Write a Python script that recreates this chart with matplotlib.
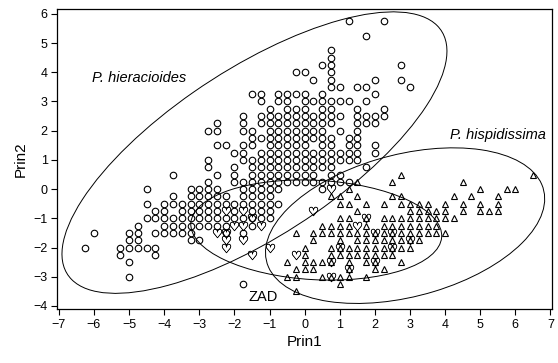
import numpy as np
import matplotlib
matplotlib.use('Agg')
import matplotlib.pyplot as plt
from matplotlib.patches import Ellipse

plt.rcParams['font.family'] = ['Liberation Sans', 'DejaVu Sans']

# P. hieracioides (circles): (Prin1, [Prin2 values])
hier_cols = [
    (-6.25, [-2]),
    (-6.0, [-1.5]),
    (-5.25, [-2, -2.25]),
    (-5.0, [-1.5, -1.75, -2, -2.5, -3]),
    (-4.75, [-1.25, -1.5, -1.75, -2]),
    (-4.5, [0, -0.5, -1, -2]),
    (-4.25, [-0.75, -1, -1.5, -2, -2.25]),
    (-4.0, [-0.5, -0.75, -1, -1.25, -1.5]),
    (-3.75, [0.5, -0.25, -0.5, -1, -1.25, -1.5]),
    (-3.5, [-0.5, -0.75, -1, -1.25, -1.5]),
    (-3.25, [0, -0.25, -0.5, -0.75, -1, -1.25, -1.5, -1.75]),
    (-3.0, [0, -0.25, -0.5, -0.75, -1, -1.25, -1.75]),
    (-2.75, [2, 1, 0.75, 0.25, 0, -0.25, -0.5, -0.75, -1, -1.25]),
    (-2.5, [2.25, 2, 1.5, 0.5, 0, -0.25, -0.5, -0.75, -1, -1.25]),
    (-2.25, [1.5, -0.25, -0.5, -1, -1.25, -1.5]),
    (-2.0, [1.25, 0.75, 0.5, 0.25, -0.5, -0.75, -1]),
    (-1.75, [2.5, 2.25, 2, 1.5, 1.25, 1, 0.25, 0, -0.25, -0.5, -1, -1.5, -3.25]),
    (-1.5, [3.25, 2, 1.75, 1.5, 1, 0.75, 0.5, 0.25, 0, -0.25, -0.5, -0.75, -1, -1.25]),
    (-1.25, [3.25, 3, 2.5, 2.25, 1.75, 1.25, 1, 0.75, 0.5, 0.25, 0, -0.25, -0.5, -0.75, -1]),
    (-1.0, [2.75, 2.5, 2.25, 2, 1.75, 1.5, 1.25, 1, 0.75, 0.5, 0.25, 0, -0.25, -0.5, -0.75, -1]),
    (-0.75, [3.25, 3, 2.5, 2.25, 2, 1.75, 1.5, 1.25, 1, 0.75, 0.5, 0.25, 0, -0.5]),
    (-0.5, [3.25, 3, 2.75, 2.5, 2.25, 2, 1.75, 1.5, 1.25, 1, 0.75, 0.5, 0.25]),
    (-0.25, [4, 3.25, 2.75, 2.5, 2.25, 2, 1.75, 1.5, 1.25, 1, 0.75, 0.5, 0.25]),
    (0.0, [4, 3.25, 3, 2.75, 2.5, 2.25, 2, 1.75, 1.5, 1.25, 1, 0.75, 0.5, 0.25]),
    (0.25, [3.75, 3, 2.5, 2.25, 2, 1.75, 1.25, 1, 0.75, 0.5, 0.25]),
    (0.5, [4.25, 3.25, 3, 2.75, 2.5, 2.25, 2, 1.75, 1.5, 1.25, 1, 0.75, 0.25, 0]),
    (0.75, [4.75, 4.5, 4.25, 4, 3.75, 3.5, 3, 2.75, 2.5, 2.25, 1.75, 1.5, 1.25, 1, 0.75, 0.5, 0.25]),
    (1.0, [3.5, 3, 2.5, 2, 1.25, 1, 0.5, 0.25]),
    (1.25, [5.75, 3, 1.75, 1.5, 1.25, 1, 0.25]),
    (1.5, [3.5, 2.75, 2.5, 2.25, 2, 1.75, 1.5, 1.25, 1]),
    (1.75, [5.25, 3.5, 3, 2.5, 2.25, 0.75]),
    (2.0, [3.75, 3.25, 2.5, 2.25, 1.5, 1.25]),
    (2.25, [5.75, 2.75, 2.5]),
    (2.75, [4.25, 3.75]),
    (3.0, [3.5]),
]

# P. hispidissima (triangles): (Prin2, [Prin1 values])
hisp_rows = [
    (0.5, [2.75, 6.5]),
    (0.25, [1.5, 2.5, 4.5]),
    (0.0, [1.25, 5.0, 5.75, 6.0]),
    (-0.25, [0.75, 1.0, 1.5, 2.5, 2.75, 4.25, 4.75, 5.5]),
    (-0.5, [1.0, 1.25, 1.75, 2.25, 2.75, 3.0, 3.25, 3.5, 4.0, 4.5, 5.0, 5.5]),
    (-0.75, [1.5, 3.0, 3.25, 3.5, 3.75, 4.0, 4.5, 5.0, 5.25, 5.5]),
    (-1.0, [1.0, 1.25, 1.75, 2.25, 2.5, 2.75, 3.0, 3.25, 3.5, 3.75, 4.0, 4.25]),
    (-1.25, [0.5, 0.75, 1.0, 1.25, 1.75, 2.25, 2.5, 2.75, 3.0, 3.25, 3.5, 3.75]),
    (-1.5, [-0.25, 0.25, 0.5, 0.75, 1.0, 1.25, 1.5, 1.75, 2.0, 2.25, 2.5, 2.75, 3.0, 3.25, 3.5, 3.75, 4.0]),
    (-1.75, [0.25, 1.0, 1.5, 1.75, 2.0, 2.25, 2.5, 2.75, 3.0, 3.25]),
    (-2.0, [0.0, 0.75, 1.0, 1.25, 1.5, 1.75, 2.0, 2.25, 2.5, 2.75, 3.0]),
    (-2.25, [0.0, 0.75, 1.0, 1.25, 1.5, 1.75, 2.0, 2.25, 2.5]),
    (-2.5, [-0.5, 0.0, 0.25, 0.5, 0.75, 1.25, 1.75, 2.0, 2.75]),
    (-2.75, [-0.25, 0.0, 0.25, 1.25, 2.0, 2.25]),
    (-3.0, [-0.5, -0.25, 0.5, 0.75, 1.0, 1.25, 1.75]),
    (-3.25, [1.0]),
    (-3.5, [-0.25]),
]

# ZAD (hearts)
zad_x = [-2.5, -2.25, -2.25, -2.25, -2.25, -2.0, -1.75, -1.75, -1.75, -1.5, -1.5, -1.25, -1.0,
         -0.25, 0.25, 0.75, 1.0, 1.5, 1.75, 2.0, 2.5, 3.0, 2.5, 0.75, 2.0, 1.25, 0.75]
zad_y = [-1.5, -0.75, -1.5, -1.75, -2.0, -1.25, -0.75, -1.25, -1.75, -1.0, -2.25, -1.25, -2.0,
         -2.25, -0.75, 0.0, -2.0, -1.25, -1.0, -1.5, -1.5, -1.75, -2.0, -2.5, -2.5, -2.75, -3.0]

# ellipses: center x, center y, semi-major, semi-minor, angle (deg)
ell_hier = (-1.43, 1.25, 6.78, 2.70, 39.9)
ell_hisp = (2.86, -1.25, 4.14, 2.40, 20.0)
ell_zad = (0.33, -1.4, 3.58, 1.70, -4.0)

hier_x = np.concatenate([[x] * len(ys) for x, ys in hier_cols])
hier_y = np.concatenate([ys for x, ys in hier_cols])
hisp_y = np.concatenate([[y] * len(xs) for y, xs in hisp_rows])
hisp_x = np.concatenate([xs for y, xs in hisp_rows])

fig = plt.figure(figsize=(5.58, 3.63), dpi=100)
ax = fig.add_axes([0.103, 0.149, 0.886, 0.825])

ax.plot(hier_x, hier_y, 'o', ms=4.7, mfc='none', mec='k', mew=0.8)
ax.plot(hisp_x, hisp_y, '^', ms=4.6, mfc='none', mec='k', mew=0.8)
ax.plot(zad_x, zad_y, marker=r'$\heartsuit$', ls='none', ms=6.5, mfc='k', mec='k', mew=0.3)

for cx, cy, a, b, ang in (ell_hier, ell_hisp, ell_zad):
    ax.add_patch(Ellipse((cx, cy), 2 * a, 2 * b, angle=ang, fill=False, ec='k', lw=0.7))

ax.text(-6.05, 3.8, 'P. hieracioides', style='italic', fontsize=10.5, va='center')
ax.text(4.15, 1.85, 'P. hispidissima', style='italic', fontsize=10.5, va='center')
ax.text(-1.6, -3.7, 'ZAD', fontsize=10.5, va='center')

ax.set_xlim(-7.04, 7.04)
ax.set_ylim(-4.1, 6.15)
ax.set_xticks(np.arange(-7, 8, 1))
ax.set_yticks(np.arange(-4, 7, 1))
ax.tick_params(direction='out', length=4, width=0.8, labelsize=9, pad=3)
for s in ax.spines.values():
    s.set_linewidth(0.9)

ax.set_xlabel('Prin1', fontsize=11, labelpad=3)
ax.set_ylabel('Prin2', fontsize=11, labelpad=4)

fig.savefig('out.png', dpi=100)
